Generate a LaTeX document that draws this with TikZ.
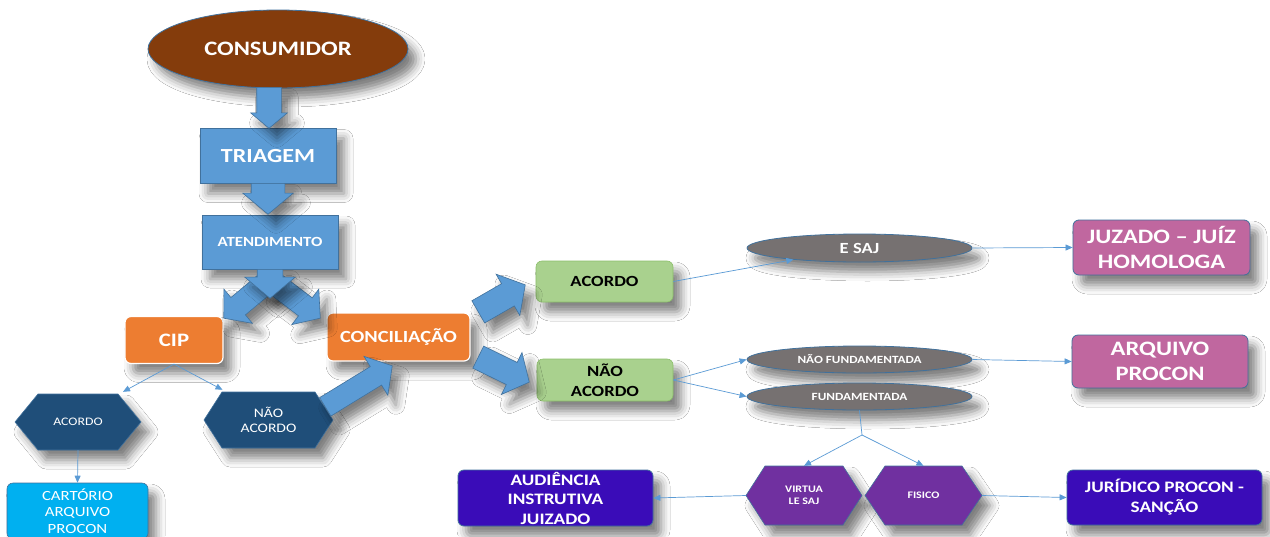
\documentclass[tikz,border=0pt]{standalone}
\usepackage{fontspec}
\setmainfont{Carlito}[FakeStretch=1.2]
\usetikzlibrary{shapes.geometric,shapes.arrows,arrows.meta,calc,shadows.blur}
\definecolor{brn}{HTML}{843C0C}
\definecolor{blu}{HTML}{5B9BD5}
\definecolor{bordB}{HTML}{41719C}
\definecolor{org}{HTML}{ED7D31}
\definecolor{dblu}{HTML}{1F4E79}
\definecolor{cyn}{HTML}{00B0F0}
\definecolor{grn}{HTML}{A9D18E}
\definecolor{grnB}{HTML}{8CBF6A}
\definecolor{gry}{HTML}{767171}
\definecolor{pnk}{HTML}{C0679F}
\definecolor{ind}{HTML}{3A0CB8}
\definecolor{ppl}{HTML}{7030A0}
\newcommand\hexshape[9]{%
  \filldraw[fill=#7, draw=bordB, line width=0.6pt, shad]
    ({#2-#4},#3) -- ({#2-#4+#6},{#3-#5}) -- ({#2+#4-#6},{#3-#5}) --
    ({#2+#4},#3) -- ({#2+#4-#6},{#3+#5}) -- ({#2-#4+#6},{#3+#5}) -- cycle;
  \node[hexlabel, font=#8, minimum width={2*#4}, minimum height={2*#5}] (#1) at (#2,#3) {#9};
}
\newcommand\blockarrow[5]{% name, tail, tip, shaft width, head extend
  \path let \p1=(#2), \p2=(#3), \n1={veclen(\x2-\x1,\y2-\y1)}, \n2={atan2(\y2-\y1,\x2-\x1)} in
    node[barrow, minimum height=\n1, inner ysep={#4/2}, single arrow head extend=#5,
         anchor=tail, rotate=\n2] (#1) at (#2) {};
}
\begin{document}
\begin{tikzpicture}[x=1pt,y=-1pt,
  shad/.style={blur shadow={shadow xshift=8pt,shadow yshift=-10pt,shadow blur radius=9pt,shadow opacity=50}},
  ellbox/.style={ellipse, inner sep=0pt, draw=bordB, line width=0.8pt, text=white, shad},
  box/.style={rectangle, inner sep=0pt, align=center, shad},
  rbox/.style={rectangle, rounded corners=6pt, inner sep=0pt, align=center, shad},
  barrow/.style={single arrow, single arrow tip angle=100, fill=blu, draw=bordB, line width=0.6pt, inner xsep=0pt, shad},
  conn/.style={draw=blu, line width=0.7pt, -{Triangle[length=7pt,width=6pt]}},
  hexlabel/.style={inner sep=0pt, align=center, text=white},
]
\useasboundingbox (0,0) rectangle (1270,536);
\clip (0,0) rectangle (1270,536);
\fill[white] (0,0) rectangle (1270,536);

% main column
\node[ellbox, fill=brn, minimum width=260, minimum height=78, font=\bfseries\fontsize{20.5}{24}\selectfont] (cons) at (278,49) {CONSUMIDOR};
\node[box, fill=blu, draw=bordB, line width=0.8pt, text=white, minimum width=136, minimum height=55, font=\bfseries\fontsize{20}{24}\selectfont] (tri) at (268,156) {TRIAGEM};
\node[box, fill=blu, draw=bordB, line width=0.8pt, text=white, minimum width=136, minimum height=54, font=\bfseries\fontsize{14}{17}\selectfont] (aten) at (270,242) {ATENDIMENTO};
\node[rbox, fill=org, draw=white, line width=1.2pt, text=white, minimum width=98, minimum height=47, font=\bfseries\fontsize{19}{23}\selectfont] (cip) at (174,340) {CIP};
\node[rbox, fill=org, draw=white, line width=1.2pt, text=white, minimum width=143, minimum height=48, font=\bfseries\fontsize{17}{20}\selectfont] (conc) at (398.5,337) {CONCILIAÇÃO};

% left hexagons
\hexshape{hexA}{78}{422}{63}{28}{23}{dblu}{\fontsize{11.5}{14}\selectfont}{ACORDO}
\hexshape{hexN}{268.5}{420}{64.5}{28}{18}{dblu}{\fontsize{13}{15.7}\selectfont}{NÃO\\ACORDO}
\node[rbox, fill=cyn, draw=bordB, line width=0.6pt, text=white, minimum width=141, minimum height=56, font=\fontsize{14}{16.5}\selectfont] (cart) at (77.5,511) {CARTÓRIO\\ARQUIVO\\PROCON};

% green boxes
\node[rbox, fill=grn, draw=grnB, line width=0.6pt, minimum width=137, minimum height=41, font=\bfseries\fontsize{15.5}{19}\selectfont] (gAc) at (604.5,281.5) {ACORDO};
\node[rbox, fill=grn, draw=grnB, line width=0.6pt, minimum width=136, minimum height=42, font=\bfseries\fontsize{15.5}{19.5}\selectfont] (gNo) at (605,380) {NÃO\\ACORDO};

% grey ellipses
\node[ellbox, fill=gry, minimum width=225, minimum height=28, font=\bfseries\fontsize{15.5}{19}\selectfont] (esaj) at (859.5,248) {E SAJ};
\node[ellbox, fill=gry, minimum width=225, minimum height=27, font=\bfseries\fontsize{11}{13}\selectfont] (nfund) at (859.5,359.5) {NÃO FUNDAMENTADA};
\node[ellbox, fill=gry, minimum width=225, minimum height=27, font=\bfseries\fontsize{11}{13}\selectfont] (fund) at (859.5,396.5) {FUNDAMENTADA};

% pink boxes
\node[rbox, fill=pnk, draw=bordB, line width=0.8pt, text=white, minimum width=177, minimum height=55, font=\bfseries\fontsize{20.5}{25}\selectfont] (juz) at (1161.5,247.5) {JUZADO – JUÍZ\\HOMOLOGA};
\node[rbox, fill=pnk, draw=bordB, line width=0.8pt, text=white, minimum width=176, minimum height=53, font=\bfseries\fontsize{20.5}{25}\selectfont] (arq) at (1160,361.5) {ARQUIVO\\PROCON};

% bottom row
\hexshape{hexV}{804}{495.5}{58}{29.5}{19}{ppl}{\bfseries\fontsize{10}{12.5}\selectfont}{VIRTUA\\LE SAJ}
\hexshape{hexF}{923.5}{495.5}{58.5}{29.5}{20}{ppl}{\bfseries\fontsize{10}{12.5}\selectfont}{FISICO}
\node[rbox, fill=ind, draw=bordB, line width=0.8pt, text=white, minimum width=195, minimum height=56, font=\bfseries\fontsize{16}{19.5}\selectfont] (aud) at (555.5,498) {AUDIÊNCIA\\INSTRUTIVA\\JUIZADO};
\node[rbox, fill=ind, draw=bordB, line width=0.8pt, text=white, minimum width=195, minimum height=55, font=\bfseries\fontsize{16}{20}\selectfont] (jur) at (1164.5,497.5) {JURÍDICO PROCON -\\SANÇÃO};

% block arrows (name, tail, tip, shaft width, head extend)
\blockarrow{a1}{269,87}{269,128}{24}{6}
\blockarrow{a2}{268,183}{268,214}{33}{8.5}
\blockarrow{a3l}{266,283}{224,318}{22}{11}
\blockarrow{a3r}{274,283}{320,318}{22}{11}
\blockarrow{a3}{270,269}{270,298}{25}{12.5}
\blockarrow{a4}{325,407}{392,366}{21}{12}
\blockarrow{a5}{478,312}{525,285}{25}{11}
\blockarrow{a6}{478,357}{529,382}{24}{11}

% thin connectors
\draw[conn] (cip.south) -- ([xshift=45pt,yshift=2pt]hexA.north);
\draw[conn] (cip.south) -- ([xshift=-46pt,yshift=2pt]hexN.north);
\draw[conn] (hexA.south) -- (cart.north);
\draw[conn] (gAc.east) -- (esaj.190);
\draw[conn] (gNo.east) -- (nfund.west);
\draw[conn] (gNo.east) -- (fund.west);
\draw[conn] (esaj.east) -- (juz.west);
\draw[conn] (nfund.east) -- (arq.west);
\coordinate (br) at (862,435);
\draw[draw=blu, line width=0.7pt] (fund.south) -- (br);
\draw[conn] (br) -- (hexV.north);
\draw[conn] (br) -- (hexF.north);
\draw[conn] (hexV.west) -- (aud.east);
\draw[conn] (hexF.east) -- (jur.west);
\end{tikzpicture}
\end{document}
